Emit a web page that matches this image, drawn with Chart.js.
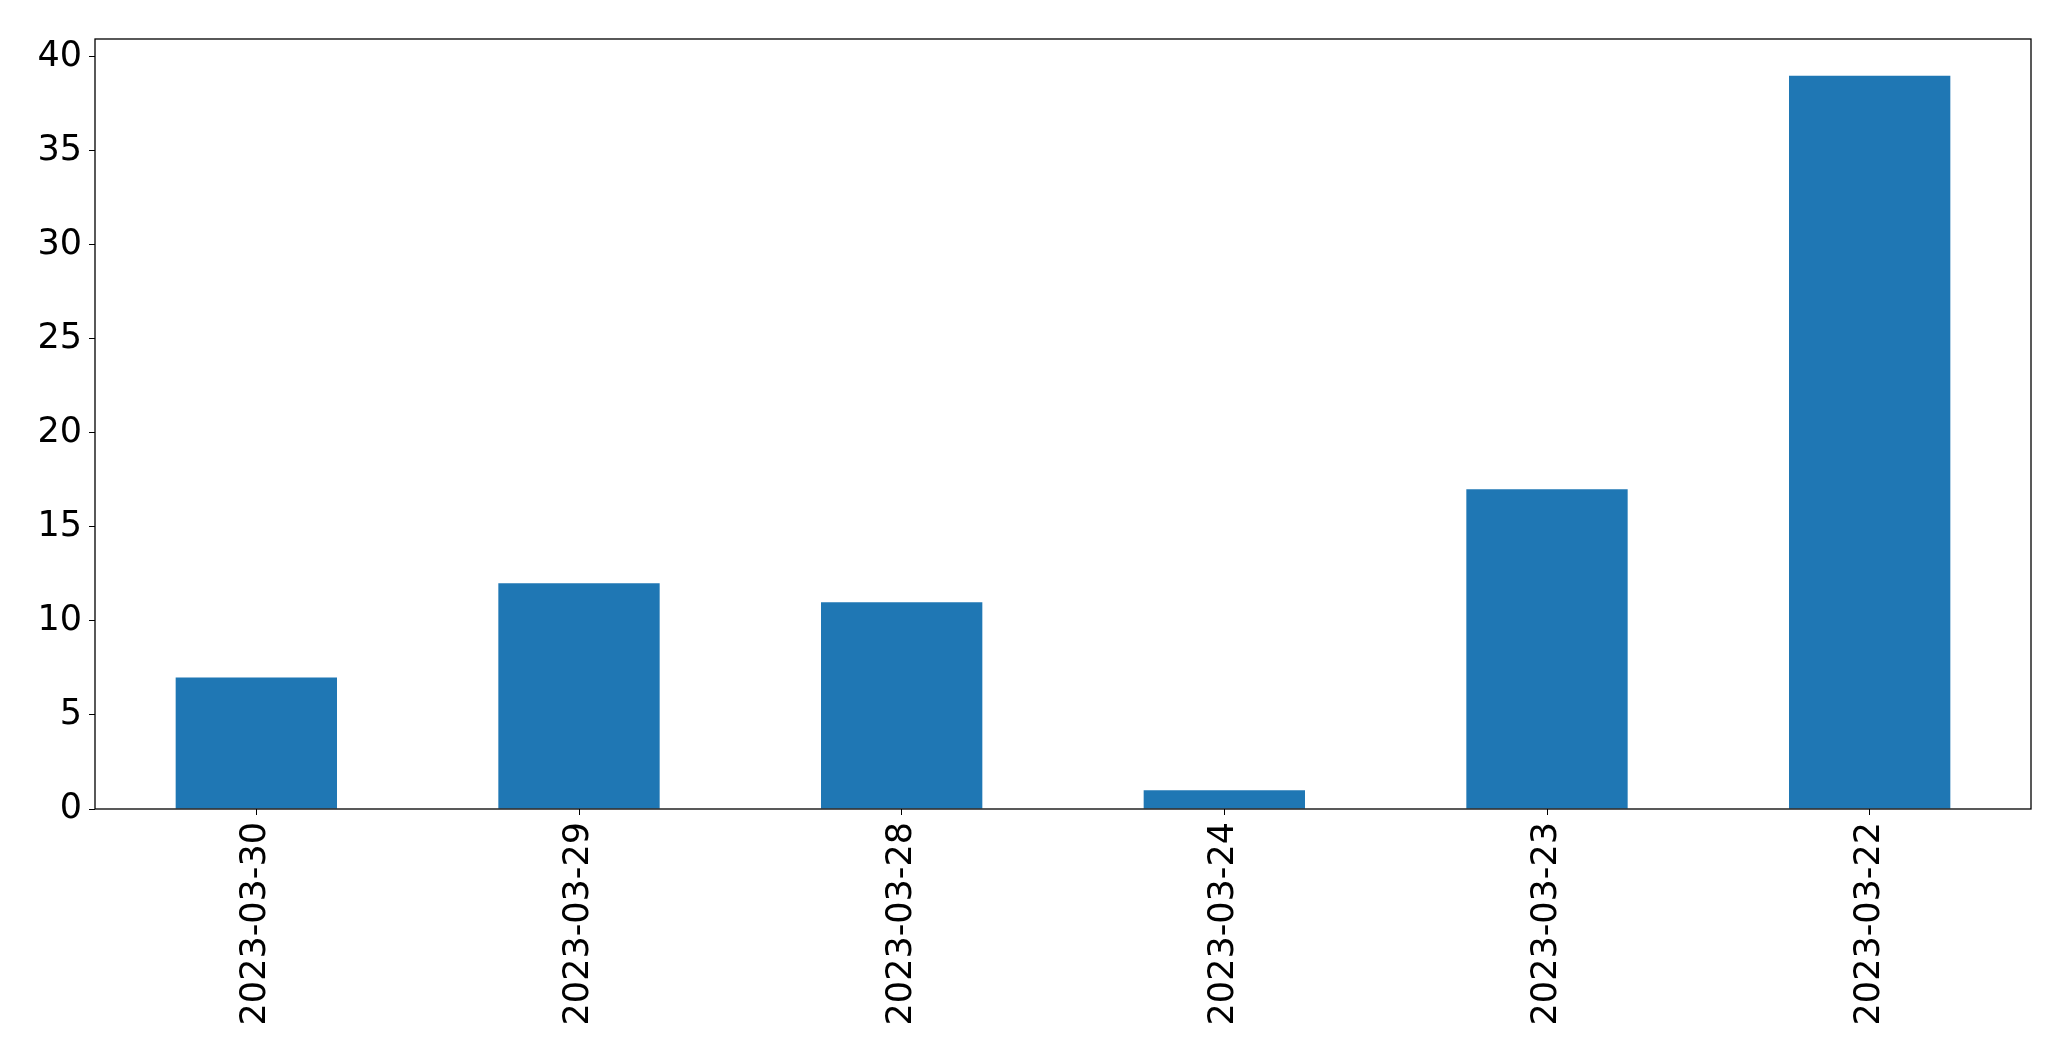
<!DOCTYPE html>
<html>
<head>
<meta charset="utf-8">
<script src="https://cdn.jsdelivr.net/npm/chart.js@4.4.0/dist/chart.umd.min.js"></script>
<style>
  body { margin: 0; background: #fff; }
  #wrap { width: 2071px; height: 1061px; }
</style>
</head>
<body>
<div id="wrap"><canvas id="chart"></canvas></div>
<script>
// dados
const dates = ['2023-03-30', '2023-03-29', '2023-03-28', '2023-03-24', '2023-03-23', '2023-03-22'];
const counts = [7, 12, 11, 1, 17, 39];
const yTicks = [0, 5, 10, 15, 20, 25, 30, 35, 40];

// moldura completa em volta da área do gráfico
const frame = {
  id: 'frame',
  afterDatasetsDraw(chart) {
    const a = chart.chartArea;
    const ctx = chart.ctx;
    ctx.save();
    ctx.strokeStyle = '#000';
    ctx.lineWidth = 1.3;
    ctx.strokeRect(a.left, a.top, a.right - a.left, a.bottom - a.top);
    ctx.restore();
  }
};

const font = { family: 'DejaVu Sans', size: 35 };

new Chart(document.getElementById('chart'), {
  type: 'bar',
  data: {
    labels: dates,
    datasets: [{
      data: counts,
      backgroundColor: '#1f77b4',
      borderWidth: 0,
      categoryPercentage: 1,
      barPercentage: 0.5
    }]
  },
  options: {
    responsive: true,
    maintainAspectRatio: false,
    animation: false,
    layout: { padding: { top: 39, right: 40, bottom: 0, left: 0 } },
    plugins: { legend: { display: false }, tooltip: { enabled: false } },
    scales: {
      x: {
        offset: true,
        grid: { offset: false, drawOnChartArea: false, drawTicks: true, tickLength: 6, color: '#000' },
        border: { display: false },
        ticks: { color: '#000', font: font, minRotation: 90, maxRotation: 90, padding: 7 },
        afterFit(scale) { scale.height = 252; }
      },
      y: {
        min: 0,
        max: 40.95,
        grid: { drawOnChartArea: false, drawTicks: true, tickLength: 6, color: '#000' },
        border: { display: false },
        ticks: { color: '#000', font: font, stepSize: 5, padding: 7 },
        afterBuildTicks(scale) {
          scale.ticks = yTicks.map(v => ({ value: v }));
        },
        afterFit(scale) { scale.width = 95; }
      }
    }
  },
  plugins: [frame]
});
</script>
</body>
</html>
